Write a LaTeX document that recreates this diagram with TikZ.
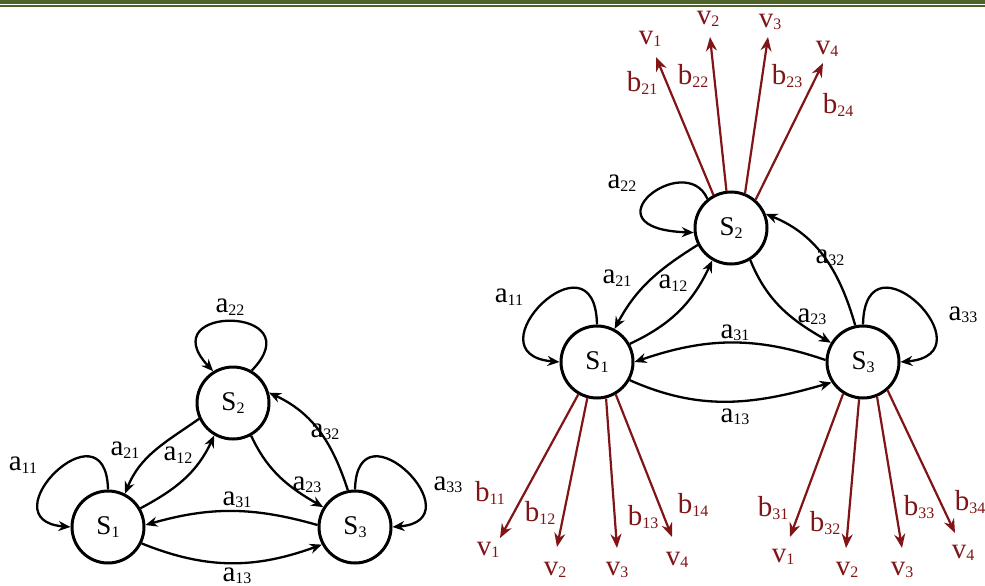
\documentclass[tikz,border=0pt]{standalone}
\usepackage{fontspec}
\setmainfont{Liberation Serif}
\usetikzlibrary{arrows.meta}
\definecolor{band}{RGB}{79,98,40}
\definecolor{emit}{RGB}{128,20,22}
% letter with a lowered, smaller index
\newcommand\lb[2]{#1\raisebox{-2.5pt}{\fontsize{16}{16}\selectfont#2}}
\tikzset{
  state/.style={circle, draw, line width=3pt, minimum size=72pt, inner sep=0pt,
                font=\fontsize{27}{27}\selectfont},
  arr/.style={line width=2.3pt, -{Stealth[length=12pt,width=10pt]}},
  emarr/.style={line width=2.2pt, draw=emit, -{Stealth[length=14pt,width=11pt]}},
  lab/.style={inner sep=0pt, font=\fontsize{29}{29}\selectfont},
  elab/.style={lab, text=emit}
}
\begin{document}
\begin{tikzpicture}[x=1pt,y=-1pt]
\useasboundingbox (0,0) rectangle (985,586);
% page rule
\fill[band] (0,0) rectangle (985,4.3);
\fill[band] (0,5.3) rectangle (985,6.8);

% ---------- left: Markov chain ----------
\node[state] (L1) at (108,527) {\lb{S}{1}};
\node[state] (L2) at (233,403) {\lb{S}{2}};
\node[state] (L3) at (355,527) {\lb{S}{3}};

\draw[arr] (L1.90) .. controls +(-2,-90) and +(-85,-7) .. (L1.180);
\draw[arr] (L3.90) .. controls +(2,-90) and +(85,-7) .. (L3.0);
\draw[arr] (L2.60) .. controls +(63,-65) and +(-63,-67) .. (L2.122);
\draw[arr] (L2.205) to[out=215,in=68] (L1.63);
\draw[arr] (L1.30) to[out=28,in=245] (L2.240);
\draw[arr] (L2.299) to[out=295,in=150] (L3.148);
\draw[arr] (L3.101) to[out=108,in=-25] (L2.16);
\draw[arr] (L3.177) to[out=164,in=16] (L1.3);
\draw[arr] (L1.-26) to[out=-22,in=200] (L3.208);

\node[lab] (la22) at (230,307) {\lb{a}{22}};
\node[lab] (la11) at (23,465) {\lb{a}{11}};
\node[lab] (la33) at (448,485) {\lb{a}{33}};
\node[lab] (la21) at (125,450) {\lb{a}{21}};
\node[lab] (la12) at (178,455) {\lb{a}{12}};
\node[lab] (la23) at (307,485) {\lb{a}{23}};
\node[lab] (la32) at (325,432) {\lb{a}{32}};
\node[lab] (la31) at (237,500) {\lb{a}{31}};
\node[lab] (la13) at (237,576) {\lb{a}{13}};

% ---------- right: hidden Markov model ----------
\node[state] (R1) at (597,362) {\lb{S}{1}};
\node[state] (R2) at (731,228) {\lb{S}{2}};
\node[state] (R3) at (863,362) {\lb{S}{3}};

\draw[arr] (R1.90) .. controls +(-2,-98) and +(-92,-8) .. (R1.180);
\draw[arr] (R3.90) .. controls +(2,-98) and +(92,-8) .. (R3.0);
\draw[arr] (R2.129) .. controls +(-22,-50) and +(-112,-4) .. (R2.187);
\draw[arr] (R2.207) to[out=212,in=62] (R1.62);
\draw[arr] (R1.29) to[out=25,in=245] (R2.240);
\draw[arr] (R2.301) to[out=292,in=150] (R3.149);
\draw[arr] (R3.102) to[out=106,in=-22] (R2.22);
\draw[arr] (R3.177) to[out=161,in=19] (R1.0);
\draw[arr] (R1.-29) to[out=-24,in=196] (R3.213);

\node[lab] (ra22) at (622,183) {\lb{a}{22}};
\node[lab] (ra11) at (509,297) {\lb{a}{11}};
\node[lab] (ra33) at (963,315) {\lb{a}{33}};
\node[lab] (ra21) at (617,278) {\lb{a}{21}};
\node[lab] (ra12) at (673,283) {\lb{a}{12}};
\node[lab] (ra23) at (812,317) {\lb{a}{23}};
\node[lab] (ra32) at (830,258) {\lb{a}{32}};
\node[lab] (ra31) at (735,333) {\lb{a}{31}};
\node[lab] (ra13) at (735,417) {\lb{a}{13}};

% emissions of S2
\coordinate (e21) at (656,57);
\coordinate (e22) at (710,37);
\coordinate (e23) at (768,37);
\coordinate (e24) at (823,63);
\draw[emarr] (R2.118) -- (e21);
\draw[emarr] (R2.97) -- (e22);
\draw[emarr] (R2.68) -- (e23);
\draw[emarr] (R2.49) -- (e24);
\node[elab] (v21) at (650,39) {\lb{v}{1}};
\node[elab] (v22) at (708,19) {\lb{v}{2}};
\node[elab] (v23) at (770,22) {\lb{v}{3}};
\node[elab] (v24) at (827,49) {\lb{v}{4}};
\node[elab] (b21) at (642,83) {\lb{b}{21}};
\node[elab] (b22) at (693,76) {\lb{b}{22}};
\node[elab] (b23) at (787,76) {\lb{b}{23}};
\node[elab] (b24) at (838,105) {\lb{b}{24}};

% emissions of S1
\coordinate (e11) at (500,538);
\coordinate (e12) at (557,547);
\coordinate (e13) at (617,548);
\coordinate (e14) at (672,537);
\draw[emarr] (R1.240) -- (e11);
\draw[emarr] (R1.255) -- (e12);
\draw[emarr] (R1.284) -- (e13);
\draw[emarr] (R1.300) -- (e14);
\node[elab] (v11) at (488,550) {\lb{v}{1}};
\node[elab] (v12) at (555,570) {\lb{v}{2}};
\node[elab] (v13) at (617,570) {\lb{v}{3}};
\node[elab] (v14) at (677,560) {\lb{v}{4}};
\node[elab] (b11) at (490,493) {\lb{b}{11}};
\node[elab] (b12) at (540,513) {\lb{b}{12}};
\node[elab] (b13) at (643,517) {\lb{b}{13}};
\node[elab] (b14) at (693,505) {\lb{b}{14}};

% emissions of S3
\coordinate (e31) at (790,537);
\coordinate (e32) at (846,548);
\coordinate (e33) at (902,548);
\coordinate (e34) at (955,533);
\draw[emarr] (R3.238) -- (e31);
\draw[emarr] (R3.264) -- (e32);
\draw[emarr] (R3.292) -- (e33);
\draw[emarr] (R3.311) -- (e34);
\node[elab] (v31) at (783,557) {\lb{v}{1}};
\node[elab] (v32) at (847,570) {\lb{v}{2}};
\node[elab] (v33) at (902,570) {\lb{v}{3}};
\node[elab] (v34) at (963,553) {\lb{v}{4}};
\node[elab] (b31) at (773,508) {\lb{b}{31}};
\node[elab] (b32) at (825,523) {\lb{b}{32}};
\node[elab] (b33) at (919,507) {\lb{b}{33}};
\node[elab] (b34) at (970,502) {\lb{b}{34}};
\end{tikzpicture}
\end{document}
